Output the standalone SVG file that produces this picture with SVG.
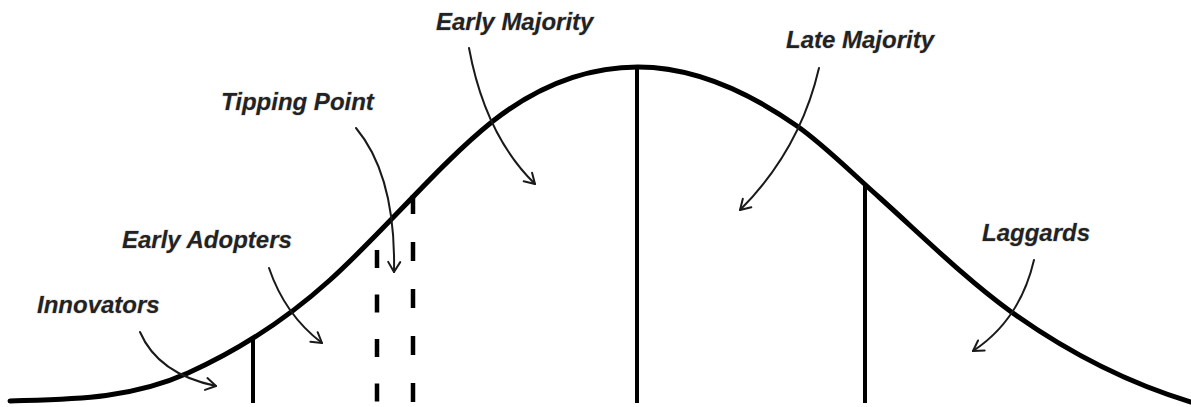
<svg xmlns="http://www.w3.org/2000/svg" width="1191" height="407" viewBox="0 0 1191 407">
  <style>
    .curve { fill: none; stroke: #000; stroke-width: 5; stroke-linecap: round; stroke-linejoin: round; }
    .divider { fill: none; stroke: #000; stroke-width: 4; }
    .dashed { fill: none; stroke: #000; stroke-width: 4.5; }
    .arrow { fill: none; stroke: #1a1a1a; stroke-width: 2; stroke-linecap: round; }
    .label { font-family: "Liberation Sans", Arial, sans-serif; font-size: 24px; font-weight: bold; font-style: italic; fill: #222; stroke: rgba(0,0,0,0.12); stroke-width: 1.5px; paint-order: stroke; }
  </style>
  <defs>
    <marker id="chev" markerUnits="userSpaceOnUse" markerWidth="16" markerHeight="16" viewBox="-12 -8 14 16" refX="0" refY="0" orient="auto">
      <path d="M-10,-6 L0,0 L-10,6" fill="none" stroke="#1a1a1a" stroke-width="2" stroke-linecap="round" stroke-linejoin="round"/>
    </marker>
  </defs>
  <rect width="1191" height="407" fill="#fff"/>

  <g id="bell-curve">
    <path class="curve" d="M10,401 C69.3,399.2 128.7,399.7 188,373 C235.3,351.7 282.7,322.6 330,280 C384.3,231.1 438.7,164.4 493,121 C541.3,83.3 589.7,67 638,67 C691,67 744,88.9 797,126 C824.7,145.4 852.3,173.6 880,198 C923.3,237 966.7,279.8 1010,311 C1070.3,354.4 1130.7,383.9 1191,402"/>
  </g>

  <g id="dividers">
    <line class="divider" x1="253" y1="338" x2="253" y2="403"/>
    <line class="divider" x1="637" y1="67" x2="637" y2="403"/>
    <line class="divider" x1="865" y1="186" x2="865" y2="403"/>
    <line class="dashed" x1="377" y1="250" x2="377" y2="403" stroke-dasharray="18 26.5"/>
    <line class="dashed" x1="413" y1="195" x2="413" y2="403" stroke-dasharray="19 28"/>
  </g>

  <g id="connectors">
    <path class="arrow" marker-end="url(#chev)" d="M140,332 Q158,374 216,386"/>
    <path class="arrow" marker-end="url(#chev)" d="M269,268 Q285,315 322,343"/>
    <path class="arrow" marker-end="url(#chev)" d="M356,128 Q396,176 394,272"/>
    <path class="arrow" marker-end="url(#chev)" d="M469,48 Q485,135 535,184"/>
    <path class="arrow" marker-end="url(#chev)" d="M819,68 Q800,150 740,210"/>
    <path class="arrow" marker-end="url(#chev)" d="M1034,260 Q1020,320 973,351"/>
  </g>

  <g id="innovators"><text class="label" x="37" y="313">Innovators</text></g>
  <g id="early-adopters"><text class="label" x="122" y="248">Early Adopters</text></g>
  <g id="tipping-point"><text class="label" x="221" y="110">Tipping Point</text></g>
  <g id="early-majority"><text class="label" x="436" y="30">Early Majority</text></g>
  <g id="late-majority"><text class="label" x="786" y="48">Late Majority</text></g>
  <g id="laggards"><text class="label" x="982" y="241">Laggards</text></g>
</svg>
